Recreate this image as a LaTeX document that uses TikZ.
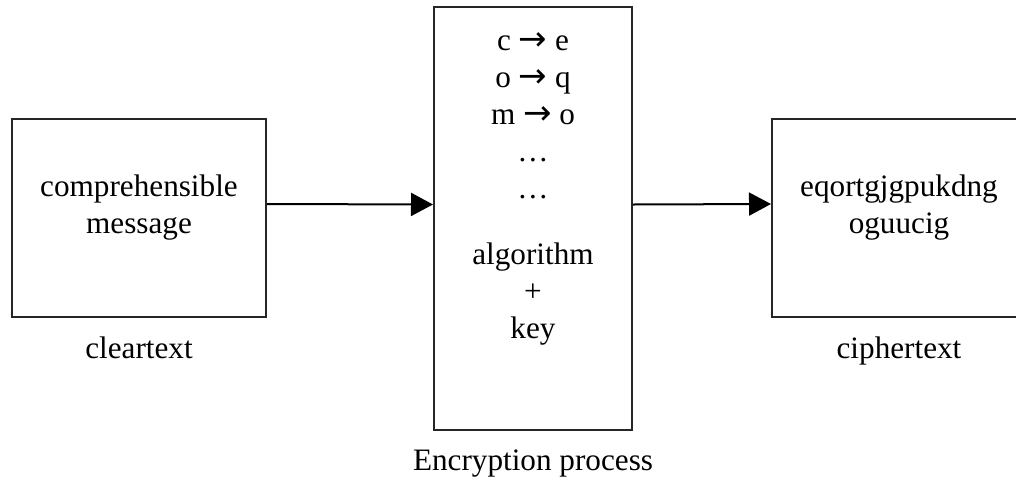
\documentclass[tikz,border=0pt]{standalone}
\usepackage{fontspec}
\setmainfont{Liberation Serif}
\newfontfamily\arrowfont{DejaVu Sans}
\newcommand{\mapto}{{\arrowfont\fontsize{17}{18.5}\selectfont →}}
\usetikzlibrary{arrows.meta, positioning}

\begin{document}
\begin{tikzpicture}[
        x=0.5pt, y=-0.5pt,
        font=\fontsize{15.6}{18.5}\selectfont,
        box/.style={draw=black!85, line width=1pt, minimum width=127pt, minimum height=99pt},
        procbox/.style={draw=black!85, line width=1pt, minimum width=99pt, minimum height=211.5pt},
        txt/.style={align=center},
        arrow/.style={-{Triangle[length=11pt, width=11.5pt]}, line width=1pt}
    ]
        \useasboundingbox (0,0) rectangle (1016,477);
        \clip (0,0) rectangle (1016,477);

        % boxes
        \node[box] (clear) at (139,218) {};
        \node[procbox] (enc) at (533,218.5) {};
        \node[box] (cipher) at (899,218) {};

        % texts in the boxes
        \node[txt] (msg) at (139,208) {comprehensible\\message};
        \node[txt] (subst) at (533,116) {c \mapto{} e\\o \mapto{} q\\m \mapto{} o\\…\\…};
        \node[txt] (algo) at (533,294) {algorithm\\+\\key};
        \node[txt] (crypt) at (899,208) {eqortgjgpukdng\\oguucig};

        % captions
        \node[below=6pt of clear] (cleartxt) {cleartext};
        \node[below=6pt of enc] (enctxt) {Encryption process};
        \node[below=6pt of cipher] (ciphertxt) {ciphertext};

        \draw[arrow] ([yshift=7pt]clear.east) -- ([yshift=7pt]enc.west);
        \draw[arrow] ([yshift=7pt]enc.east) -- ([yshift=7pt]cipher.west);
    \end{tikzpicture}
\end{document}
